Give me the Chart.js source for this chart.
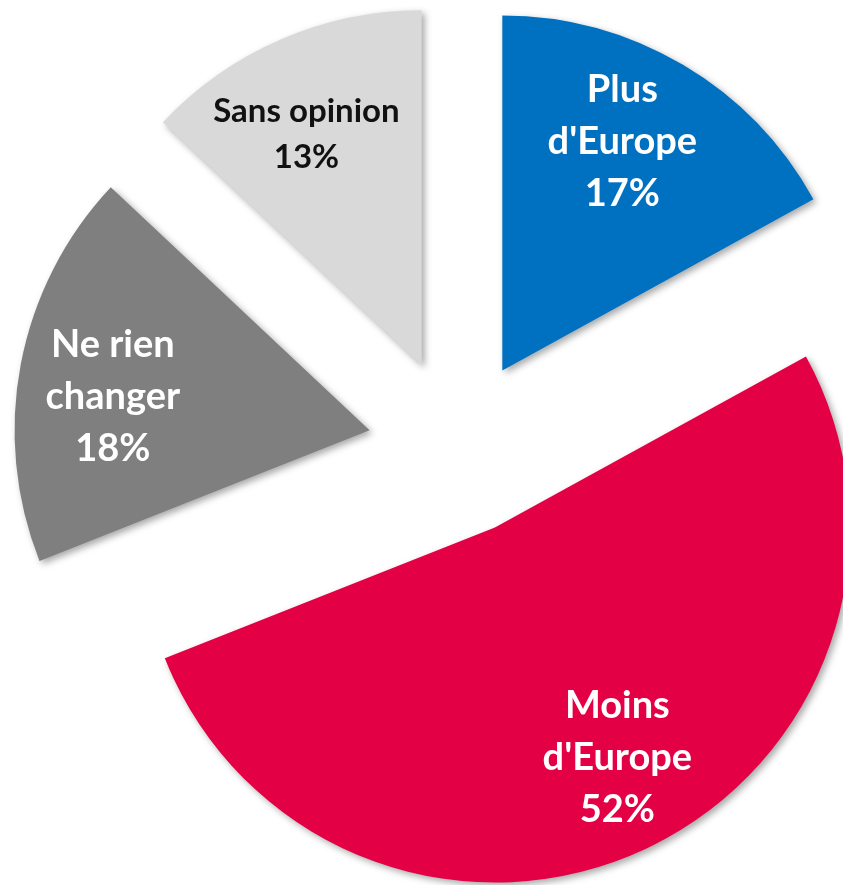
<!DOCTYPE html>
<html>
<head>
<meta charset="utf-8">
<script src="https://cdn.jsdelivr.net/npm/chart.js@4"></script>
<style>
	body { margin: 0; background: #fff; }
	#charts { width: 843px; height: 885px; position: relative; }
</style>
</head>
<body>
<div id="charts"><canvas id="chart"></canvas></div>
<script>
/* camembert eclate - avenir de l'Europe */

const categories = [
	["Plus", "d'Europe"],
	["Moins", "d'Europe"],
	["Ne rien", "changer"],
	["Sans opinion"],
];
const values = [17, 52, 18, 13];
const colors = ['#0070C0', '#E30045', '#7F7F7F', '#D9D9D9'];
const textColors = ['#FFFFFF', '#FFFFFF', '#FFFFFF', '#111111'];

// part eclatee + ombre + etiquettes
const explodePlugin = {
	id: 'explode',
	beforeDatasetDraw(chart, args, opts) {
		const arcs = args.meta.data;
		arcs.forEach(function(arc) {
			const mid = (arc.startAngle + arc.endAngle) / 2;
			arc._x0 = arc.x;
			arc._y0 = arc.y;
			arc.x += Math.cos(mid) * opts.distance;
			arc.y += Math.sin(mid) * opts.distance;
		});
		const ctx = chart.ctx;
		ctx.save();
		ctx.shadowColor = 'rgba(0, 0, 0, 0.35)';
		ctx.shadowBlur = 7;
		ctx.shadowOffsetX = 3;
		ctx.shadowOffsetY = 3;
	},
	afterDatasetDraw(chart, args, opts) {
		const ctx = chart.ctx;
		ctx.restore();
		const arcs = args.meta.data;
		arcs.forEach(function(arc, i) {
			const mid = (arc.startAngle + arc.endAngle) / 2 + opts.labelRotate * Math.PI / 180;
			const r = arc.outerRadius * opts.labelPos;
			const cx = arc.x + Math.cos(mid) * r;
			const cy = arc.y + Math.sin(mid) * r;
			const size = opts.fontSizes[i];
			const lh = opts.lineHeights[i];
			const lines = categories[i].concat([values[i] + '%']);
			const capH = size * 0.72;
			let y = cy - ((lines.length - 1) * lh - capH) / 2;
			ctx.save();
			ctx.font = 'bold ' + size + 'px Lato';
			ctx.fillStyle = textColors[i];
			ctx.textAlign = 'center';
			ctx.textBaseline = 'alphabetic';
			lines.forEach(function(t) {
				ctx.fillText(t, cx, y);
				y += lh;
			});
			ctx.restore();
			arc.x = arc._x0;
			arc.y = arc._y0;
		});
	}
};

window.onload = function() {
	const data = {
		labels: categories,
		datasets: [{
			data: values,
			backgroundColor: colors,
			borderWidth: 0,
			offset: 0,
			hoverOffset: 0,
			clip: false,
		}]
	};

	const config = {
		type: 'pie',
		data: data,
		plugins: [explodePlugin],
		options: {
			animation: false,
			responsive: true,
			maintainAspectRatio: false,
			events: [],
			layout: {
				padding: { left: 102, right: 31, top: 92, bottom: 83 }
			},
			plugins: {
				legend: { display: false },
				tooltip: { enabled: false },
				explode: {
					distance: 89,
					labelPos: 0.73,
					labelRotate: -3,
					fontSizes: [38, 38, 38, 33],
					lineHeights: [52, 52, 52, 46],
				}
			}
		}
	};

	const chart = new Chart(
		document.getElementById('chart'),
		config
	);
};
</script>
</body>
</html>
